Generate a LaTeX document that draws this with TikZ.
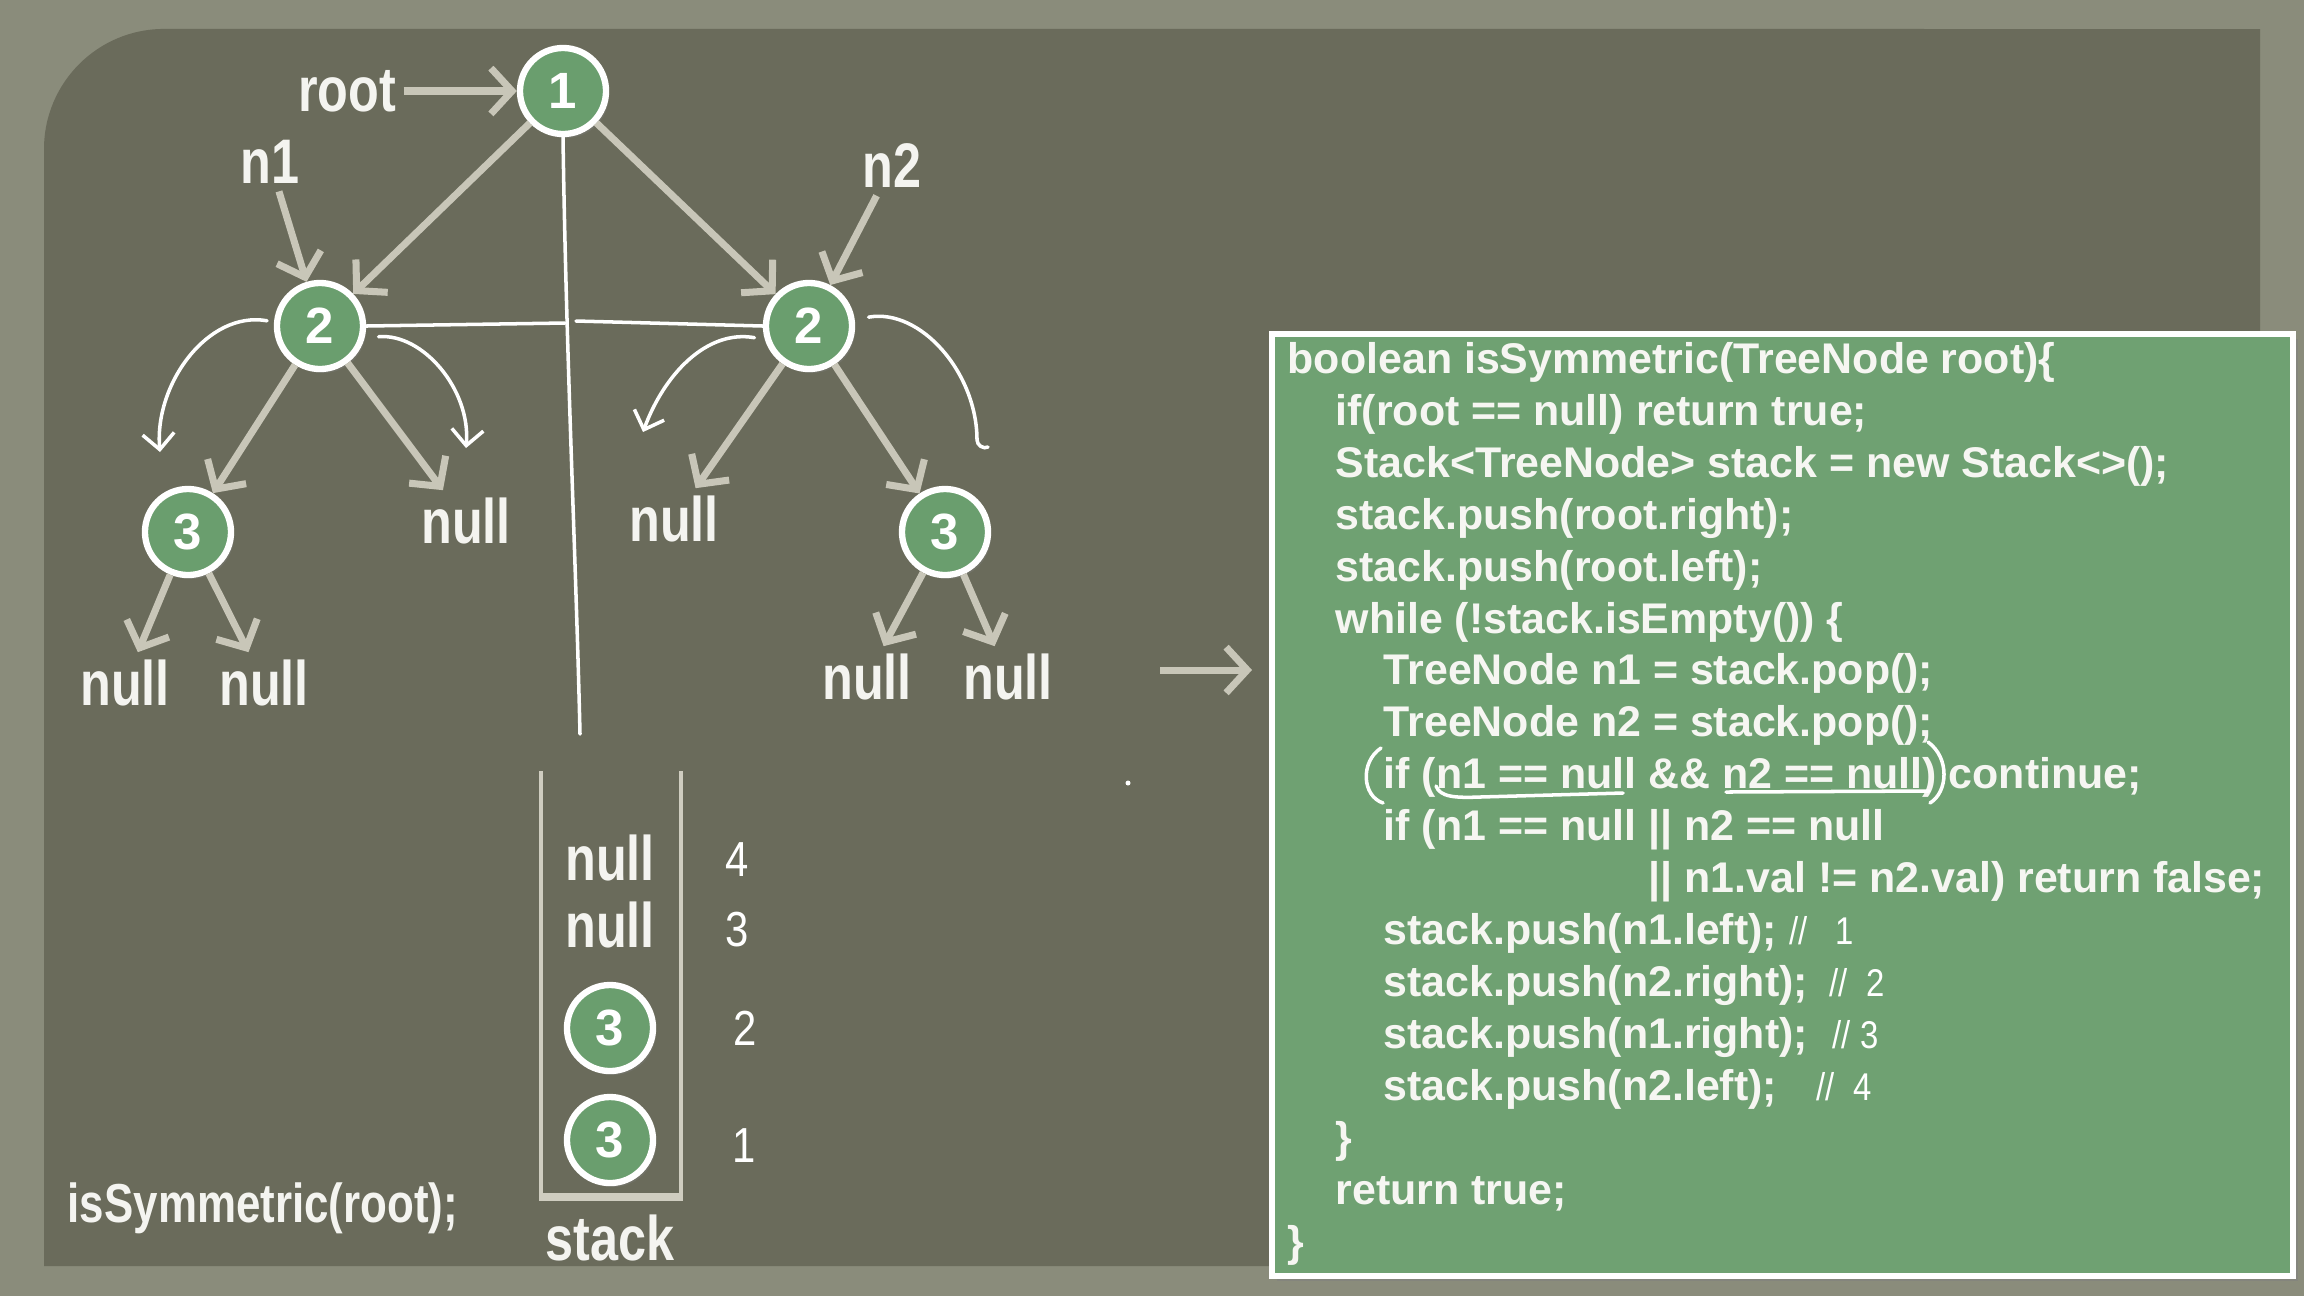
\documentclass[tikz,border=0pt]{standalone}
\usepackage{fontspec}
\usepackage{tikz}
\usetikzlibrary{arrows.meta,shadows}
\newfontfamily\condfont{Liberation Sans}[FakeStretch=0.8]
\newfontfamily\codefont{Liberation Sans}
\newfontfamily\penfont{Liberation Sans}[FakeStretch=0.85]
\definecolor{outerbg}{HTML}{8A8C7B}
\definecolor{panelgray}{HTML}{6A6B5B}
\definecolor{nodegreen}{HTML}{6A9E6E}
\definecolor{codegreen}{HTML}{6FA172}
\definecolor{arrowgray}{HTML}{C8C6B8}
\definecolor{wallgray}{HTML}{CFCDC0}
\definecolor{labelwhite}{HTML}{F4F4F0}
\definecolor{codewhite}{HTML}{F6F6F2}

\begin{document}
\begin{tikzpicture}[x=0.01cm, y=-0.01cm,
  tnode/.style={circle, fill=nodegreen, draw=white, line width=1.8pt, minimum size=0.86cm, inner sep=0pt, text=white,
    font=\codefont\bfseries\fontsize{14.5pt}{16pt}\selectfont,
    drop shadow={opacity=0.35, shadow xshift=0.03cm, shadow yshift=-0.04cm}},
  lbl/.style={text=labelwhite, inner sep=2pt, font=\condfont\bfseries\fontsize{17.9pt}{20pt}\selectfont},
  treearrow/.style={draw=arrowgray, line width=2pt, -{Straight Barb[length=6pt, width=13pt]}},
  hand/.style={draw=white, line width=1pt, line cap=round},
  handarrow/.style={hand, -{Straight Barb[length=4.5pt, width=9pt]}},
  codebox/.style={fill=codegreen, draw=white, line width=1.7pt,
    drop shadow={opacity=0.5, shadow xshift=0.05cm, shadow yshift=-0.05cm}},
  codeline/.style={anchor=base west, inner sep=0pt, text=codewhite, font=\codefont\bfseries\fontsize{12.2pt}{14pt}\selectfont},
  handtext/.style={inner sep=0pt, text=white, font=\penfont\fontsize{11pt}{13pt}\selectfont},
  stackwall/.style={draw=wallgray, line width=1.2pt}]
\useasboundingbox (0,0) rectangle (2304,1296);
% background and board
\fill[outerbg] (0,0) rectangle (2304,1296);
\fill[panelgray] (44,1266) -- (44,149) arc[start angle=180, end angle=90, radius=1.2cm] -- (2260,29) -- (2260,1266) -- cycle;

% code panel
\node[codebox, anchor=north west, minimum width=10.2cm, minimum height=9.41cm] (code) at (1269,331) {};
\node[codeline] (c1) at (1287,373) {boolean isSymmetric(TreeNode root)\{};
\node[codeline] (c2) at (1335,425) {if(root == null) return true;};
\node[codeline] (c3) at (1335,477) {Stack<TreeNode> stack = new Stack<>();};
\node[codeline] (c4) at (1335,529) {stack.push(root.right);};
\node[codeline] (c5) at (1335,581) {stack.push(root.left);};
\node[codeline] (c6) at (1335,633) {while (!stack.isEmpty()) \{};
\node[codeline] (c7) at (1383,684) {TreeNode n1 = stack.pop();};
\node[codeline] (c8) at (1383,736) {TreeNode n2 = stack.pop();};
\node[codeline] (c9) at (1383,788) {if (n1 == null \&\& n2 == null) continue;};
\node[codeline] (c10) at (1383,840) {if (n1 == null || n2 == null};
\node[codeline] (c11) at (1648,892) {|| n1.val != n2.val) return false;};
\node[codeline] (c12) at (1383,944) {stack.push(n1.left);};
\node[codeline] (c13) at (1383,996) {stack.push(n2.right);};
\node[codeline] (c14) at (1383,1048) {stack.push(n1.right);};
\node[codeline] (c15) at (1383,1100) {stack.push(n2.left);};
\node[codeline] (c16) at (1335,1152) {\}};
\node[codeline] (c17) at (1335,1204) {return true;};
\node[codeline] (c18) at (1287,1256) {\}};

% pen marks on the code
\draw[hand] (1381,748) .. controls (1360,762) and (1362,796) .. (1383,803);
\draw[hand] (1928,742) .. controls (1950,758) and (1948,792) .. (1930,803);
\draw[hand] (1436,786) .. controls (1440,797) and (1455,798) .. (1480,797) -- (1623,793);
\draw[hand] (1726,792) -- (1929,791);
\node[handtext, anchor=base west] (k1) at (1789,944) {//\ \ \ 1};
\node[handtext, anchor=base west] (k2) at (1829,996) {//\ \ 2};
\node[handtext, anchor=base west] (k3) at (1832,1048) {// 3};
\node[handtext, anchor=base west] (k4) at (1816,1100) {//\ \ 4};
\fill[white] (1128,783) circle (0.025cm);

% tree
\node[tnode] (r1) at (563,91) {1};
\node[tnode] (l2) at (320,326) {2};
\node[tnode] (r2) at (809,326) {2};
\node[tnode] (l3) at (188,532) {3};
\node[tnode] (r3) at (945,532) {3};
\node[lbl] (nl2) at (466,521) {null};
\node[lbl] (nr2) at (674,519) {null};
\node[lbl] (nl3a) at (125,683) {null};
\node[lbl] (nl3b) at (264,683) {null};
\node[lbl] (nr3a) at (867,677) {null};
\node[lbl] (nr3b) at (1008,677) {null};
\node[lbl] (rootlbl) at (347,91) {root};
\node[lbl] (n1lbl) at (270,162) {n1};
\node[lbl] (n2lbl) at (892,166) {n2};

\draw[treearrow] (rootlbl) -- (r1);
\draw[treearrow] (n1lbl) -- (l2);
\draw[treearrow] (n2lbl) -- (r2);
\draw[treearrow] (r1) -- (l2);
\draw[treearrow] (r1) -- (r2);
\draw[treearrow] (l2) -- (l3);
\draw[treearrow] (l2) -- (nl2);
\draw[treearrow] (r2) -- (nr2);
\draw[treearrow] (r2) -- (r3);
\draw[treearrow] (l3) -- (nl3a);
\draw[treearrow] (l3) -- (nl3b);
\draw[treearrow] (r3) -- (nr3a);
\draw[treearrow] (r3) -- (nr3b);

\coordinate (arrS) at (1160,670);
\draw[treearrow, shorten >=0.17cm] (arrS) -- (arrS -| code.west);

% pen marks on the tree
\coordinate (vEnd) at (580,734);
\coordinate (hL) at (565,323);
\coordinate (hR) at (576,321);
\draw[hand] (r1.south) .. controls (566,350) and (576,560) .. (vEnd);
\draw[hand] (l2.east) -- (hL);
\draw[hand] (hR) -- (r2.west);
\coordinate (la) at (160,452);
\coordinate (lb) at (466,448);
\coordinate (ra) at (643,432);
\coordinate (rb) at (977,440);
\coordinate (rbh) at (988,447);
\draw[handarrow, shorten <=2pt] (l2.175) to[out=170, in=95] (la);
\draw[handarrow, shorten <=4pt] (l2.-15) to[out=5, in=85] (lb);
\draw[handarrow, shorten <=3pt] (r2.197) to[out=170, in=70] (ra);
\draw[hand, shorten <=4pt] (r2.8) to[out=10, in=90] (rb) to[out=-90, in=-150] (rbh);

% stack
\draw[stackwall] (541,771) -- (541,1197);
\draw[stackwall] (681,771) -- (681,1197);
\draw[stackwall, line width=2.4pt] (539,1197) -- (683,1197);
\node[lbl] (sn4) at (610,858) {null};
\node[lbl] (sn3) at (610,925) {null};
\node[tnode] (sc2) at (610,1028) {3};
\node[tnode] (sc1) at (610,1140) {3};
\node[lbl] (stacklbl) at (610,1238) {stack};
\node[handtext, font=\penfont\fontsize{14pt}{16pt}\selectfont] (s4) at (737,860) {4};
\node[handtext, font=\penfont\fontsize{14pt}{16pt}\selectfont] (s3) at (737,930) {3};
\node[handtext, font=\penfont\fontsize{14pt}{16pt}\selectfont] (s2) at (745,1028) {2};
\node[handtext, font=\penfont\fontsize{14pt}{16pt}\selectfont] (s1) at (744,1146) {1};

\node[lbl, anchor=base west, font=\condfont\bfseries\fontsize{15.6pt}{18pt}\selectfont] (call) at (60,1222) {isSymmetric(root);};
\end{tikzpicture}
\end{document}
